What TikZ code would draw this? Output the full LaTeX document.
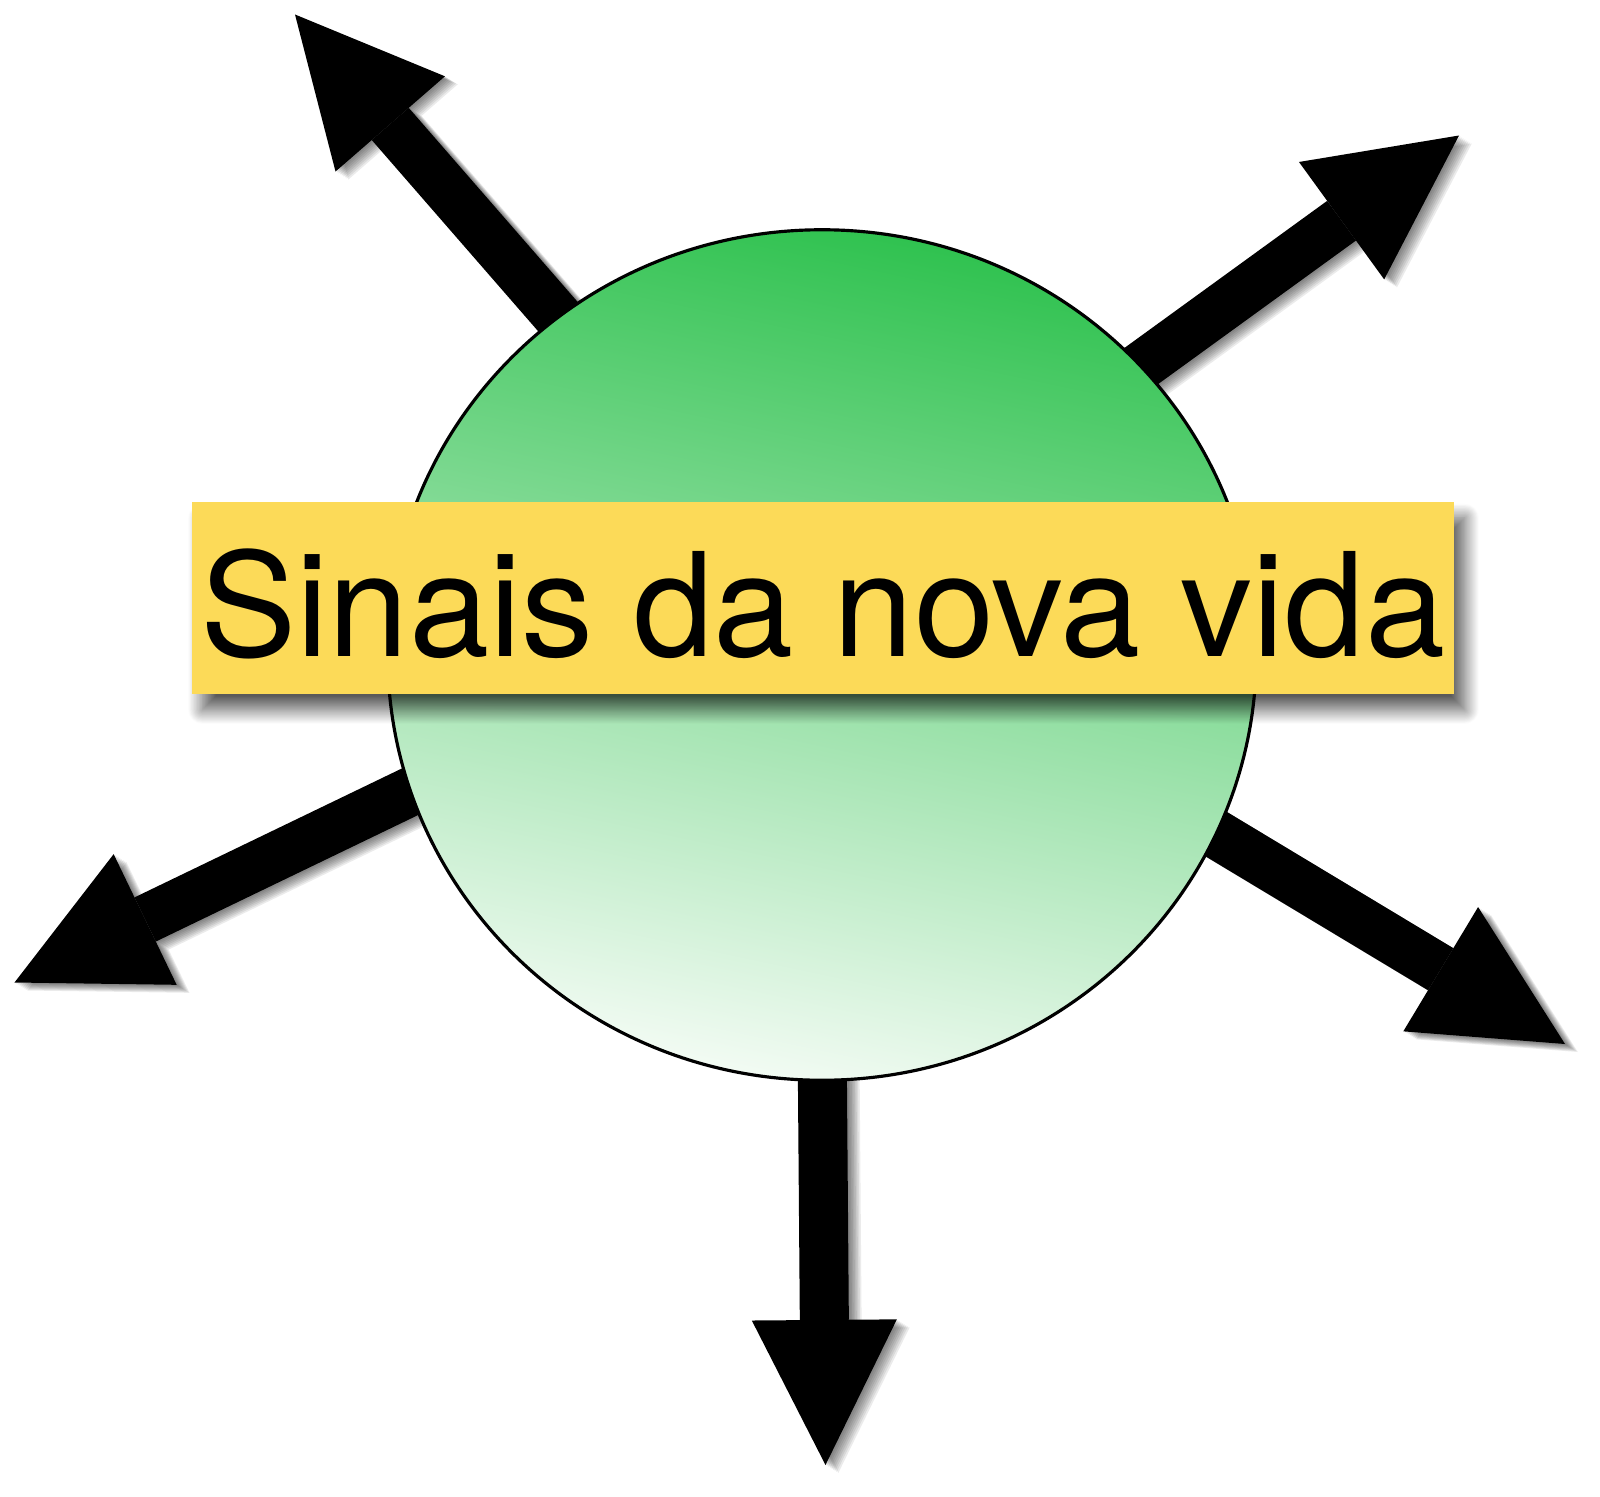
\documentclass[tikz,border=0pt]{standalone}
\usepackage{fontspec}
\setmainfont{TeX Gyre Heros}
\usetikzlibrary{arrows.meta,shapes.geometric,shadows.blur}

\definecolor{balltop}{RGB}{48,194,80}
\definecolor{ballbottom}{RGB}{242,251,243}
\definecolor{tagfill}{RGB}{252,218,88}

\tikzset{
  ball/.style={ellipse, draw, line width=0.9pt, inner sep=0pt,
    minimum width=8.68cm, minimum height=8.5cm,
    top color=balltop, bottom color=ballbottom, shading angle=-12},
  tag/.style={rectangle, fill=tagfill, inner sep=0pt,
    minimum width=12.62cm, minimum height=1.92cm,
    text height=1.16cm, text depth=0cm,
    font=\fontsize{41}{49}\selectfont,
    blur shadow={shadow xshift=3pt, shadow yshift=-4.5pt, shadow blur radius=4pt, shadow blur steps=24, shadow opacity=65}},
  fat/.style={line width=0.49cm,
    -{Triangle[length=1.45cm, width=1.45cm, line width=0pt]}},
}

\begin{document}
\begin{tikzpicture}[x=0.01cm, y=-0.01cm]
  \useasboundingbox (0,0) rectangle (1600,1497);

  \coordinate (s1) at (568.7,329);
  \coordinate (s2) at (1128.9,375);
  \coordinate (s3) at (423.6,785.2);
  \coordinate (s4) at (1204.4,827);
  \coordinate (s5) at (822.3,1066);

  \coordinate (t1) at (295,14.5);
  \coordinate (t2) at (1459,135.5);
  \coordinate (t3) at (14.5,982.5);
  \coordinate (t4) at (1565,1044);
  \coordinate (t5) at (825.5,1465);

  \foreach \i in {1,...,5} {
    \foreach \s in {2,4,...,16}
      \draw[fat, opacity=0.08, transform canvas={shift={(0.8*\s,0.5*\s)}}] (s\i) -- (t\i);
    \draw[fat] (s\i) -- (t\i);
  }

  \node[ball] (ball) at (822,655) {};
  \node[tag] (title) at (823,598) {Sinais da nova vida};
\end{tikzpicture}
\end{document}
